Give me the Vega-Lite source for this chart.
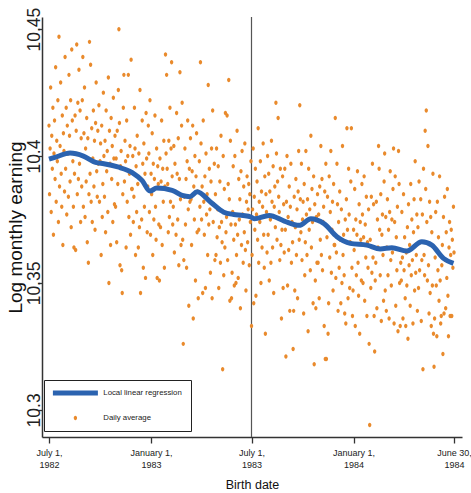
{
"$schema":"https://vega.github.io/schema/vega-lite/v6.json",
"width":420,"height":420,
"autosize":{"type":"none"},
"padding":{"left":42,"top":17,"right":9,"bottom":56},
"background":"white",
"config":{"view":{"stroke":null},"font":"Liberation Sans"},
"datasets":{
"cut":[{"d":365}],
"llr":[{"d":0,"v":10.3988},{"d":12,"v":10.3996},{"d":38,"v":10.4012},{"d":62,"v":10.4},{"d":84,"v":10.3975},{"d":99,"v":10.397},{"d":124,"v":10.3957},{"d":150,"v":10.3935},{"d":168,"v":10.3903},{"d":182,"v":10.3862},{"d":194,"v":10.3874},{"d":222,"v":10.3865},{"d":240,"v":10.3845},{"d":254,"v":10.384},{"d":267,"v":10.3859},{"d":291,"v":10.3819},{"d":315,"v":10.3779},{"d":333,"v":10.377},{"d":350,"v":10.3766},{"d":364,"v":10.376},{"d":370,"v":10.3753},{"d":397,"v":10.3766},{"d":424,"v":10.3744},{"d":451,"v":10.3727},{"d":472,"v":10.3753},{"d":496,"v":10.3733},{"d":519,"v":10.3682},{"d":543,"v":10.3656},{"d":573,"v":10.3649},{"d":597,"v":10.3634},{"d":618,"v":10.3639},{"d":645,"v":10.3626},{"d":672,"v":10.3662},{"d":690,"v":10.3649},{"d":711,"v":10.3597},{"d":729,"v":10.3577}],
"daily":[
{"d":0,"v":10.412},{"d":1,"v":10.385},{"d":2,"v":10.403},{"d":3,"v":10.427},{"d":4,"v":10.378},{"d":5,"v":10.408},{"d":6,"v":10.395},{"d":7,"v":10.419},{"d":8,"v":10.369},{"d":9,"v":10.401},{"d":10,"v":10.414},{"d":11,"v":10.391},{"d":12,"v":10.435},{"d":13,"v":10.382},{"d":14,"v":10.406},{"d":15,"v":10.398},{"d":16,"v":10.422},{"d":17,"v":10.374},{"d":18,"v":10.447},{"d":19,"v":10.388},{"d":20,"v":10.404},{"d":21,"v":10.429},{"d":22,"v":10.393},{"d":23,"v":10.38},{"d":24,"v":10.416},{"d":25,"v":10.365},{"d":26,"v":10.409},{"d":27,"v":10.402},{"d":28,"v":10.386},{"d":29,"v":10.439},
{"d":30,"v":10.395},{"d":31,"v":10.419},{"d":32,"v":10.377},{"d":33,"v":10.412},{"d":34,"v":10.401},{"d":35,"v":10.384},{"d":36,"v":10.432},{"d":37,"v":10.408},{"d":38,"v":10.39},{"d":39,"v":10.422},{"d":40,"v":10.372},{"d":41,"v":10.442},{"d":42,"v":10.414},{"d":43,"v":10.398},{"d":44,"v":10.38},{"d":45,"v":10.364},{"d":46,"v":10.393},{"d":47,"v":10.416},{"d":48,"v":10.363},{"d":49,"v":10.41},{"d":50,"v":10.444},{"d":51,"v":10.385},{"d":52,"v":10.421},{"d":53,"v":10.391},{"d":54,"v":10.434},{"d":55,"v":10.397},{"d":56,"v":10.418},{"d":57,"v":10.374},{"d":58,"v":10.407},{"d":59,"v":10.388},
{"d":60,"v":10.422},{"d":61,"v":10.439},{"d":62,"v":10.38},{"d":63,"v":10.409},{"d":64,"v":10.427},{"d":65,"v":10.376},{"d":66,"v":10.403},{"d":67,"v":10.39},{"d":68,"v":10.415},{"d":69,"v":10.366},{"d":70,"v":10.407},{"d":71,"v":10.358},{"d":72,"v":10.385},{"d":73,"v":10.445},{"d":74,"v":10.393},{"d":75,"v":10.436},{"d":76,"v":10.382},{"d":77,"v":10.411},{"d":78,"v":10.374},{"d":79,"v":10.399},{"d":80,"v":10.418},{"d":81,"v":10.388},{"d":82,"v":10.406},{"d":83,"v":10.371},{"d":84,"v":10.413},{"d":85,"v":10.429},{"d":86,"v":10.394},{"d":87,"v":10.384},{"d":88,"v":10.41},{"d":89,"v":10.397},
{"d":90,"v":10.42},{"d":91,"v":10.382},{"d":92,"v":10.398},{"d":93,"v":10.405},{"d":94,"v":10.361},{"d":95,"v":10.412},{"d":96,"v":10.376},{"d":97,"v":10.389},{"d":98,"v":10.425},{"d":99,"v":10.4},{"d":100,"v":10.384},{"d":101,"v":10.406},{"d":102,"v":10.37},{"d":103,"v":10.418},{"d":104,"v":10.394},{"d":105,"v":10.402},{"d":106,"v":10.378},{"d":107,"v":10.431},{"d":108,"v":10.35},{"d":109,"v":10.41},{"d":110,"v":10.397},{"d":111,"v":10.365},{"d":112,"v":10.415},{"d":113,"v":10.391},{"d":114,"v":10.404},{"d":115,"v":10.374},{"d":116,"v":10.423},{"d":117,"v":10.399},{"d":118,"v":10.381},{"d":119,"v":10.408},
{"d":120,"v":10.38},{"d":121,"v":10.399},{"d":122,"v":10.366},{"d":123,"v":10.41},{"d":124,"v":10.389},{"d":125,"v":10.426},{"d":126,"v":10.45},{"d":127,"v":10.413},{"d":128,"v":10.357},{"d":129,"v":10.396},{"d":130,"v":10.402},{"d":131,"v":10.355},{"d":132,"v":10.346},{"d":133,"v":10.385},{"d":134,"v":10.419},{"d":135,"v":10.432},{"d":136,"v":10.39},{"d":137,"v":10.406},{"d":138,"v":10.398},{"d":139,"v":10.364},{"d":140,"v":10.414},{"d":141,"v":10.382},{"d":142,"v":10.4},{"d":143,"v":10.432},{"d":144,"v":10.376},{"d":145,"v":10.393},{"d":146,"v":10.404},{"d":147,"v":10.369},{"d":148,"v":10.438},{"d":149,"v":10.387},
{"d":150,"v":10.387},{"d":151,"v":10.4},{"d":152,"v":10.374},{"d":153,"v":10.384},{"d":154,"v":10.419},{"d":155,"v":10.403},{"d":156,"v":10.361},{"d":157,"v":10.396},{"d":158,"v":10.378},{"d":159,"v":10.408},{"d":160,"v":10.389},{"d":161,"v":10.364},{"d":162,"v":10.401},{"d":163,"v":10.372},{"d":164,"v":10.426},{"d":165,"v":10.346},{"d":166,"v":10.391},{"d":167,"v":10.375},{"d":168,"v":10.414},{"d":169,"v":10.397},{"d":170,"v":10.356},{"d":171,"v":10.405},{"d":172,"v":10.38},{"d":173,"v":10.393},{"d":174,"v":10.352},{"d":175,"v":10.417},{"d":176,"v":10.399},{"d":177,"v":10.37},{"d":178,"v":10.388},{"d":179,"v":10.412},
{"d":180,"v":10.401},{"d":181,"v":10.378},{"d":182,"v":10.422},{"d":183,"v":10.369},{"d":184,"v":10.393},{"d":185,"v":10.385},{"d":186,"v":10.409},{"d":187,"v":10.361},{"d":188,"v":10.397},{"d":189,"v":10.375},{"d":190,"v":10.391},{"d":191,"v":10.416},{"d":192,"v":10.38},{"d":193,"v":10.367},{"d":194,"v":10.403},{"d":195,"v":10.352},{"d":196,"v":10.396},{"d":197,"v":10.389},{"d":198,"v":10.373},{"d":199,"v":10.351},{"d":200,"v":10.399},{"d":201,"v":10.372},{"d":202,"v":10.39},{"d":203,"v":10.414},{"d":204,"v":10.365},{"d":205,"v":10.395},{"d":206,"v":10.382},{"d":207,"v":10.406},{"d":208,"v":10.356},{"d":209,"v":10.388},
{"d":210,"v":10.44},{"d":211,"v":10.401},{"d":212,"v":10.432},{"d":213,"v":10.395},{"d":214,"v":10.389},{"d":215,"v":10.37},{"d":216,"v":10.406},{"d":217,"v":10.376},{"d":218,"v":10.419},{"d":219,"v":10.382},{"d":220,"v":10.403},{"d":221,"v":10.437},{"d":222,"v":10.392},{"d":223,"v":10.373},{"d":224,"v":10.38},{"d":225,"v":10.404},{"d":226,"v":10.362},{"d":227,"v":10.397},{"d":228,"v":10.386},{"d":229,"v":10.369},{"d":230,"v":10.417},{"d":231,"v":10.393},{"d":232,"v":10.375},{"d":233,"v":10.407},{"d":234,"v":10.357},{"d":235,"v":10.391},{"d":236,"v":10.433},{"d":237,"v":10.383},{"d":238,"v":10.365},{"d":239,"v":10.412},
{"d":240,"v":10.421},{"d":241,"v":10.367},{"d":242,"v":10.326},{"d":243,"v":10.359},{"d":244,"v":10.384},{"d":245,"v":10.403},{"d":246,"v":10.373},{"d":247,"v":10.391},{"d":248,"v":10.356},{"d":249,"v":10.398},{"d":250,"v":10.414},{"d":251,"v":10.379},{"d":252,"v":10.341},{"d":253,"v":10.395},{"d":254,"v":10.382},{"d":255,"v":10.407},{"d":256,"v":10.383},{"d":257,"v":10.365},{"d":258,"v":10.394},{"d":259,"v":10.412},{"d":260,"v":10.336},{"d":261,"v":10.388},{"d":262,"v":10.375},{"d":263,"v":10.4},{"d":264,"v":10.351},{"d":265,"v":10.392},{"d":266,"v":10.409},{"d":267,"v":10.37},{"d":268,"v":10.386},{"d":269,"v":10.344},
{"d":270,"v":10.371},{"d":271,"v":10.398},{"d":272,"v":10.38},{"d":273,"v":10.437},{"d":274,"v":10.405},{"d":275,"v":10.375},{"d":276,"v":10.388},{"d":277,"v":10.346},{"d":278,"v":10.414},{"d":279,"v":10.382},{"d":280,"v":10.369},{"d":281,"v":10.392},{"d":282,"v":10.348},{"d":283,"v":10.401},{"d":284,"v":10.377},{"d":285,"v":10.385},{"d":286,"v":10.361},{"d":287,"v":10.428},{"d":288,"v":10.373},{"d":289,"v":10.395},{"d":290,"v":10.379},{"d":291,"v":10.354},{"d":292,"v":10.39},{"d":293,"v":10.403},{"d":294,"v":10.344},{"d":295,"v":10.418},{"d":296,"v":10.374},{"d":297,"v":10.381},{"d":298,"v":10.397},{"d":299,"v":10.359},
{"d":300,"v":10.385},{"d":301,"v":10.361},{"d":302,"v":10.403},{"d":303,"v":10.368},{"d":304,"v":10.379},{"d":305,"v":10.396},{"d":306,"v":10.348},{"d":307,"v":10.372},{"d":308,"v":10.39},{"d":309,"v":10.358},{"d":310,"v":10.408},{"d":311,"v":10.374},{"d":312,"v":10.366},{"d":313,"v":10.316},{"d":314,"v":10.4},{"d":315,"v":10.353},{"d":316,"v":10.387},{"d":317,"v":10.364},{"d":318,"v":10.417},{"d":319,"v":10.37},{"d":320,"v":10.376},{"d":321,"v":10.416},{"d":322,"v":10.359},{"d":323,"v":10.389},{"d":324,"v":10.43},{"d":325,"v":10.383},{"d":326,"v":10.343},{"d":327,"v":10.406},{"d":328,"v":10.373},{"d":329,"v":10.344},
{"d":330,"v":10.354},{"d":331,"v":10.378},{"d":332,"v":10.396},{"d":333,"v":10.367},{"d":334,"v":10.349},{"d":335,"v":10.4},{"d":336,"v":10.373},{"d":337,"v":10.35},{"d":338,"v":10.361},{"d":339,"v":10.41},{"d":340,"v":10.369},{"d":341,"v":10.352},{"d":342,"v":10.391},{"d":343,"v":10.375},{"d":344,"v":10.383},{"d":345,"v":10.34},{"d":346,"v":10.394},{"d":347,"v":10.365},{"d":348,"v":10.402},{"d":349,"v":10.377},{"d":350,"v":10.358},{"d":351,"v":10.388},{"d":352,"v":10.37},{"d":353,"v":10.405},{"d":354,"v":10.363},{"d":355,"v":10.347},{"d":356,"v":10.382},{"d":357,"v":10.392},{"d":358,"v":10.366},{"d":359,"v":10.379},{"d":360,"v":10.389},{"d":361,"v":10.357},{"d":362,"v":10.385},{"d":363,"v":10.374},{"d":364,"v":10.398},
{"d":365,"v":10.333},{"d":366,"v":10.361},{"d":367,"v":10.379},{"d":368,"v":10.403},{"d":369,"v":10.342},{"d":370,"v":10.384},{"d":371,"v":10.371},{"d":372,"v":10.395},{"d":373,"v":10.345},{"d":374,"v":10.377},{"d":375,"v":10.39},{"d":376,"v":10.367},{"d":377,"v":10.411},{"d":378,"v":10.358},{"d":379,"v":10.382},{"d":380,"v":10.374},{"d":381,"v":10.398},{"d":382,"v":10.35},{"d":383,"v":10.386},{"d":384,"v":10.364},{"d":385,"v":10.38},{"d":386,"v":10.405},{"d":387,"v":10.369},{"d":388,"v":10.356},{"d":389,"v":10.392},{"d":390,"v":10.33},{"d":391,"v":10.385},{"d":392,"v":10.378},{"d":393,"v":10.362},{"d":394,"v":10.4},
{"d":395,"v":10.369},{"d":396,"v":10.393},{"d":397,"v":10.351},{"d":398,"v":10.386},{"d":399,"v":10.375},{"d":400,"v":10.358},{"d":401,"v":10.406},{"d":402,"v":10.382},{"d":403,"v":10.364},{"d":404,"v":10.396},{"d":405,"v":10.346},{"d":406,"v":10.38},{"d":407,"v":10.388},{"d":408,"v":10.372},{"d":409,"v":10.421},{"d":410,"v":10.401},{"d":411,"v":10.367},{"d":412,"v":10.39},{"d":413,"v":10.415},{"d":414,"v":10.384},{"d":415,"v":10.378},{"d":416,"v":10.359},{"d":417,"v":10.395},{"d":418,"v":10.365},{"d":419,"v":10.336},{"d":420,"v":10.371},{"d":421,"v":10.392},{"d":422,"v":10.348},{"d":423,"v":10.381},{"d":424,"v":10.362},
{"d":425,"v":10.395},{"d":426,"v":10.371},{"d":427,"v":10.321},{"d":428,"v":10.382},{"d":429,"v":10.4},{"d":430,"v":10.349},{"d":431,"v":10.376},{"d":432,"v":10.363},{"d":433,"v":10.388},{"d":434,"v":10.339},{"d":435,"v":10.38},{"d":436,"v":10.397},{"d":437,"v":10.358},{"d":438,"v":10.374},{"d":439,"v":10.366},{"d":440,"v":10.324},{"d":441,"v":10.339},{"d":442,"v":10.384},{"d":443,"v":10.347},{"d":444,"v":10.372},{"d":445,"v":10.391},{"d":446,"v":10.361},{"d":447,"v":10.379},{"d":448,"v":10.344},{"d":449,"v":10.386},{"d":450,"v":10.402},{"d":451,"v":10.367},{"d":452,"v":10.42},{"d":453,"v":10.383},{"d":454,"v":10.37},
{"d":455,"v":10.397},{"d":456,"v":10.359},{"d":457,"v":10.375},{"d":458,"v":10.382},{"d":459,"v":10.338},{"d":460,"v":10.389},{"d":461,"v":10.353},{"d":462,"v":10.366},{"d":463,"v":10.402},{"d":464,"v":10.377},{"d":465,"v":10.361},{"d":466,"v":10.383},{"d":467,"v":10.331},{"d":468,"v":10.395},{"d":469,"v":10.371},{"d":470,"v":10.379},{"d":471,"v":10.355},{"d":472,"v":10.408},{"d":473,"v":10.364},{"d":474,"v":10.387},{"d":475,"v":10.374},{"d":476,"v":10.342},{"d":477,"v":10.392},{"d":478,"v":10.318},{"d":479,"v":10.381},{"d":480,"v":10.351},{"d":481,"v":10.34},{"d":482,"v":10.376},{"d":483,"v":10.358},{"d":484,"v":10.385},
{"d":485,"v":10.358},{"d":486,"v":10.377},{"d":487,"v":10.344},{"d":488,"v":10.388},{"d":489,"v":10.367},{"d":490,"v":10.404},{"d":491,"v":10.361},{"d":492,"v":10.391},{"d":493,"v":10.355},{"d":494,"v":10.374},{"d":495,"v":10.38},{"d":496,"v":10.333},{"d":497,"v":10.386},{"d":498,"v":10.32},{"d":499,"v":10.397},{"d":500,"v":10.32},{"d":501,"v":10.368},{"d":502,"v":10.384},{"d":503,"v":10.33},{"d":504,"v":10.342},{"d":505,"v":10.392},{"d":506,"v":10.36},{"d":507,"v":10.378},{"d":508,"v":10.402},{"d":509,"v":10.354},{"d":510,"v":10.371},{"d":511,"v":10.382},{"d":512,"v":10.347},{"d":513,"v":10.389},{"d":514,"v":10.365},
{"d":515,"v":10.365},{"d":516,"v":10.415},{"d":517,"v":10.352},{"d":518,"v":10.362},{"d":519,"v":10.397},{"d":520,"v":10.381},{"d":521,"v":10.339},{"d":522,"v":10.374},{"d":523,"v":10.356},{"d":524,"v":10.386},{"d":525,"v":10.367},{"d":526,"v":10.342},{"d":527,"v":10.379},{"d":528,"v":10.35},{"d":529,"v":10.404},{"d":530,"v":10.361},{"d":531,"v":10.369},{"d":532,"v":10.353},{"d":533,"v":10.338},{"d":534,"v":10.375},{"d":535,"v":10.334},{"d":536,"v":10.383},{"d":537,"v":10.411},{"d":538,"v":10.371},{"d":539,"v":10.344},{"d":540,"v":10.395},{"d":541,"v":10.377},{"d":542,"v":10.348},{"d":543,"v":10.366},{"d":544,"v":10.39},
{"d":545,"v":10.411},{"d":546,"v":10.356},{"d":547,"v":10.337},{"d":548,"v":10.347},{"d":549,"v":10.371},{"d":550,"v":10.363},{"d":551,"v":10.387},{"d":552,"v":10.333},{"d":553,"v":10.375},{"d":554,"v":10.353},{"d":555,"v":10.369},{"d":556,"v":10.394},{"d":557,"v":10.358},{"d":558,"v":10.345},{"d":559,"v":10.381},{"d":560,"v":10.33},{"d":561,"v":10.374},{"d":562,"v":10.367},{"d":563,"v":10.351},{"d":564,"v":10.389},{"d":565,"v":10.377},{"d":566,"v":10.35},{"d":567,"v":10.368},{"d":568,"v":10.392},{"d":569,"v":10.343},{"d":570,"v":10.373},{"d":571,"v":10.36},{"d":572,"v":10.384},{"d":573,"v":10.337},{"d":574,"v":10.366},
{"d":575,"v":10.356},{"d":576,"v":10.379},{"d":577,"v":10.326},{"d":578,"v":10.294},{"d":579,"v":10.367},{"d":580,"v":10.348},{"d":581,"v":10.384},{"d":582,"v":10.354},{"d":583,"v":10.397},{"d":584,"v":10.36},{"d":585,"v":10.381},{"d":586,"v":10.337},{"d":587,"v":10.323},{"d":588,"v":10.351},{"d":589,"v":10.358},{"d":590,"v":10.382},{"d":591,"v":10.34},{"d":592,"v":10.375},{"d":593,"v":10.364},{"d":594,"v":10.404},{"d":595,"v":10.395},{"d":596,"v":10.371},{"d":597,"v":10.353},{"d":598,"v":10.385},{"d":599,"v":10.335},{"d":600,"v":10.369},{"d":601,"v":10.377},{"d":602,"v":10.361},{"d":603,"v":10.343},{"d":604,"v":10.39},
{"d":605,"v":10.401},{"d":606,"v":10.347},{"d":607,"v":10.376},{"d":608,"v":10.339},{"d":609,"v":10.364},{"d":610,"v":10.383},{"d":611,"v":10.353},{"d":612,"v":10.371},{"d":613,"v":10.336},{"d":614,"v":10.378},{"d":615,"v":10.394},{"d":616,"v":10.359},{"d":617,"v":10.349},{"d":618,"v":10.375},{"d":619,"v":10.362},{"d":620,"v":10.387},{"d":621,"v":10.403},{"d":622,"v":10.334},{"d":623,"v":10.374},{"d":624,"v":10.392},{"d":625,"v":10.341},{"d":626,"v":10.368},{"d":627,"v":10.355},{"d":628,"v":10.38},{"d":629,"v":10.331},{"d":630,"v":10.402},{"d":631,"v":10.389},{"d":632,"v":10.35},{"d":633,"v":10.333},{"d":634,"v":10.358},
{"d":635,"v":10.351},{"d":636,"v":10.378},{"d":637,"v":10.36},{"d":638,"v":10.336},{"d":639,"v":10.385},{"d":640,"v":10.355},{"d":641,"v":10.368},{"d":642,"v":10.344},{"d":643,"v":10.333},{"d":644,"v":10.362},{"d":645,"v":10.349},{"d":646,"v":10.372},{"d":647,"v":10.328},{"d":648,"v":10.381},{"d":649,"v":10.357},{"d":650,"v":10.365},{"d":651,"v":10.341},{"d":652,"v":10.389},{"d":653,"v":10.353},{"d":654,"v":10.375},{"d":655,"v":10.359},{"d":656,"v":10.334},{"d":657,"v":10.37},{"d":658,"v":10.383},{"d":659,"v":10.347},{"d":660,"v":10.398},{"d":661,"v":10.354},{"d":662,"v":10.361},{"d":663,"v":10.377},{"d":664,"v":10.339},
{"d":665,"v":10.372},{"d":666,"v":10.348},{"d":667,"v":10.39},{"d":668,"v":10.355},{"d":669,"v":10.366},{"d":670,"v":10.383},{"d":671,"v":10.335},{"d":672,"v":10.359},{"d":673,"v":10.377},{"d":674,"v":10.316},{"d":675,"v":10.395},{"d":676,"v":10.361},{"d":677,"v":10.353},{"d":678,"v":10.41},{"d":679,"v":10.387},{"d":680,"v":10.418},{"d":681,"v":10.374},{"d":682,"v":10.351},{"d":683,"v":10.404},{"d":684,"v":10.357},{"d":685,"v":10.338},{"d":686,"v":10.382},{"d":687,"v":10.346},{"d":688,"v":10.376},{"d":689,"v":10.333},{"d":690,"v":10.37},{"d":691,"v":10.349},{"d":692,"v":10.393},{"d":693,"v":10.33},{"d":694,"v":10.317},
{"d":695,"v":10.336},{"d":696,"v":10.36},{"d":697,"v":10.378},{"d":698,"v":10.349},{"d":699,"v":10.329},{"d":700,"v":10.382},{"d":701,"v":10.355},{"d":702,"v":10.368},{"d":703,"v":10.343},{"d":704,"v":10.392},{"d":705,"v":10.351},{"d":706,"v":10.334},{"d":707,"v":10.337},{"d":708,"v":10.357},{"d":709,"v":10.365},{"d":710,"v":10.322},{"d":711,"v":10.376},{"d":712,"v":10.338},{"d":713,"v":10.384},{"d":714,"v":10.359},{"d":715,"v":10.34},{"d":716,"v":10.37},{"d":717,"v":10.352},{"d":718,"v":10.387},{"d":719,"v":10.345},{"d":720,"v":10.329},{"d":721,"v":10.364},{"d":722,"v":10.374},{"d":723,"v":10.337},{"d":724,"v":10.361},{"d":725,"v":10.371},{"d":726,"v":10.337},{"d":727,"v":10.367},{"d":728,"v":10.356},{"d":729,"v":10.38},{"d":730,"v":10.362}
]},
"encoding":{
"x":{"field":"d","type":"quantitative","title":"Birth date",
"scale":{"domain":[-12.6,744.4],"nice":false,"zero":false},
"axis":{"values":[0,184,365,549,730],"grid":false,
"labelExpr":"datum.value==0?['July 1,','1982']:datum.value==184?['January 1,','1983']:datum.value==365?['July 1,','1983']:datum.value==549?['January 1,','1984']:['June 30,','1984']",
"labelFont":"Liberation Sans","labelFontSize":9,"labelLineHeight":12.5,"labelColor":"#222","labelPadding":5,"labelFlush":false,"labelOverlap":false,"labelBaseline":"top","labelBound":false,
"tickSize":6,"tickColor":"#333","tickWidth":1.3,"domainColor":"#333","domainWidth":1.5,
"titleFont":"Liberation Sans","titleFontSize":12.5,"titleFontWeight":"normal","titleColor":"#111","titlePadding":9}}
},
"layer":[
{"data":{"name":"cut"},"mark":{"type":"rule","color":"#555","strokeWidth":1.2}},
{"data":{"name":"daily"},
"mark":{"type":"point","filled":true,"size":20,"opacity":1},
"encoding":{
"y":{"field":"v","type":"quantitative","title":"Log monthly earning",
"scale":{"domain":[10.2893,10.4548],"nice":false,"zero":false},
"axis":{"values":[10.3,10.35,10.4,10.45],"format":".2~f","grid":false,
"labelAngle":-90,"labelAlign":"center","labelBaseline":"alphabetic",
"labelFont":"Liberation Sans","labelFontSize":17.5,"labelColor":"#222","labelPadding":-1,
"tickSize":4,"tickColor":"#333","tickWidth":1.3,"domainColor":"#333","domainWidth":1.5,
"titleAngle":-90,"titleX":-20.5,"titleY":210,"titleAlign":"center","titleBaseline":"alphabetic",
"titleFont":"Liberation Sans","titleFontSize":19,"titleFontWeight":"normal","titleColor":"#111"}},
"color":{"datum":"Daily average","type":"nominal",
"scale":{"domain":["Local linear regression","Daily average"],"range":["#2b63b0","#e98a2c"]},
"legend":{"title":null,"orient":"none","legendX":2,"legendY":363,"direction":"vertical",
"strokeColor":"#222","fillColor":"white","padding":9,
"labelFont":"Liberation Sans","labelFontSize":7.8,"labelColor":"#222",
"symbolOffset":18.5,"labelOffset":24,"rowPadding":16,"symbolSize":20,"symbolStrokeWidth":0}},
"shape":{"datum":"Daily average","type":"nominal",
"scale":{"domain":["Local linear regression","Daily average"],"range":["M-10.06,-1.118H10.06V1.118H-10.06Z","M-0.75,0A0.75,1,0,1,0,0.75,0A0.75,1,0,1,0,-0.75,0Z"]},
"legend":{"title":null,"orient":"none","legendX":2,"legendY":363,"direction":"vertical",
"strokeColor":"#222","fillColor":"white","padding":9,
"labelFont":"Liberation Sans","labelFontSize":7.8,"labelColor":"#222",
"symbolOffset":18.5,"labelOffset":24,"rowPadding":16,"symbolSize":20,"symbolStrokeWidth":0}}
}},
{"data":{"name":"llr"},
"mark":{"type":"line","strokeWidth":5,"interpolate":"monotone","color":"#2b63b0"},
"encoding":{
"y":{"field":"v","type":"quantitative","title":"Log monthly earning"}}}
]
}
